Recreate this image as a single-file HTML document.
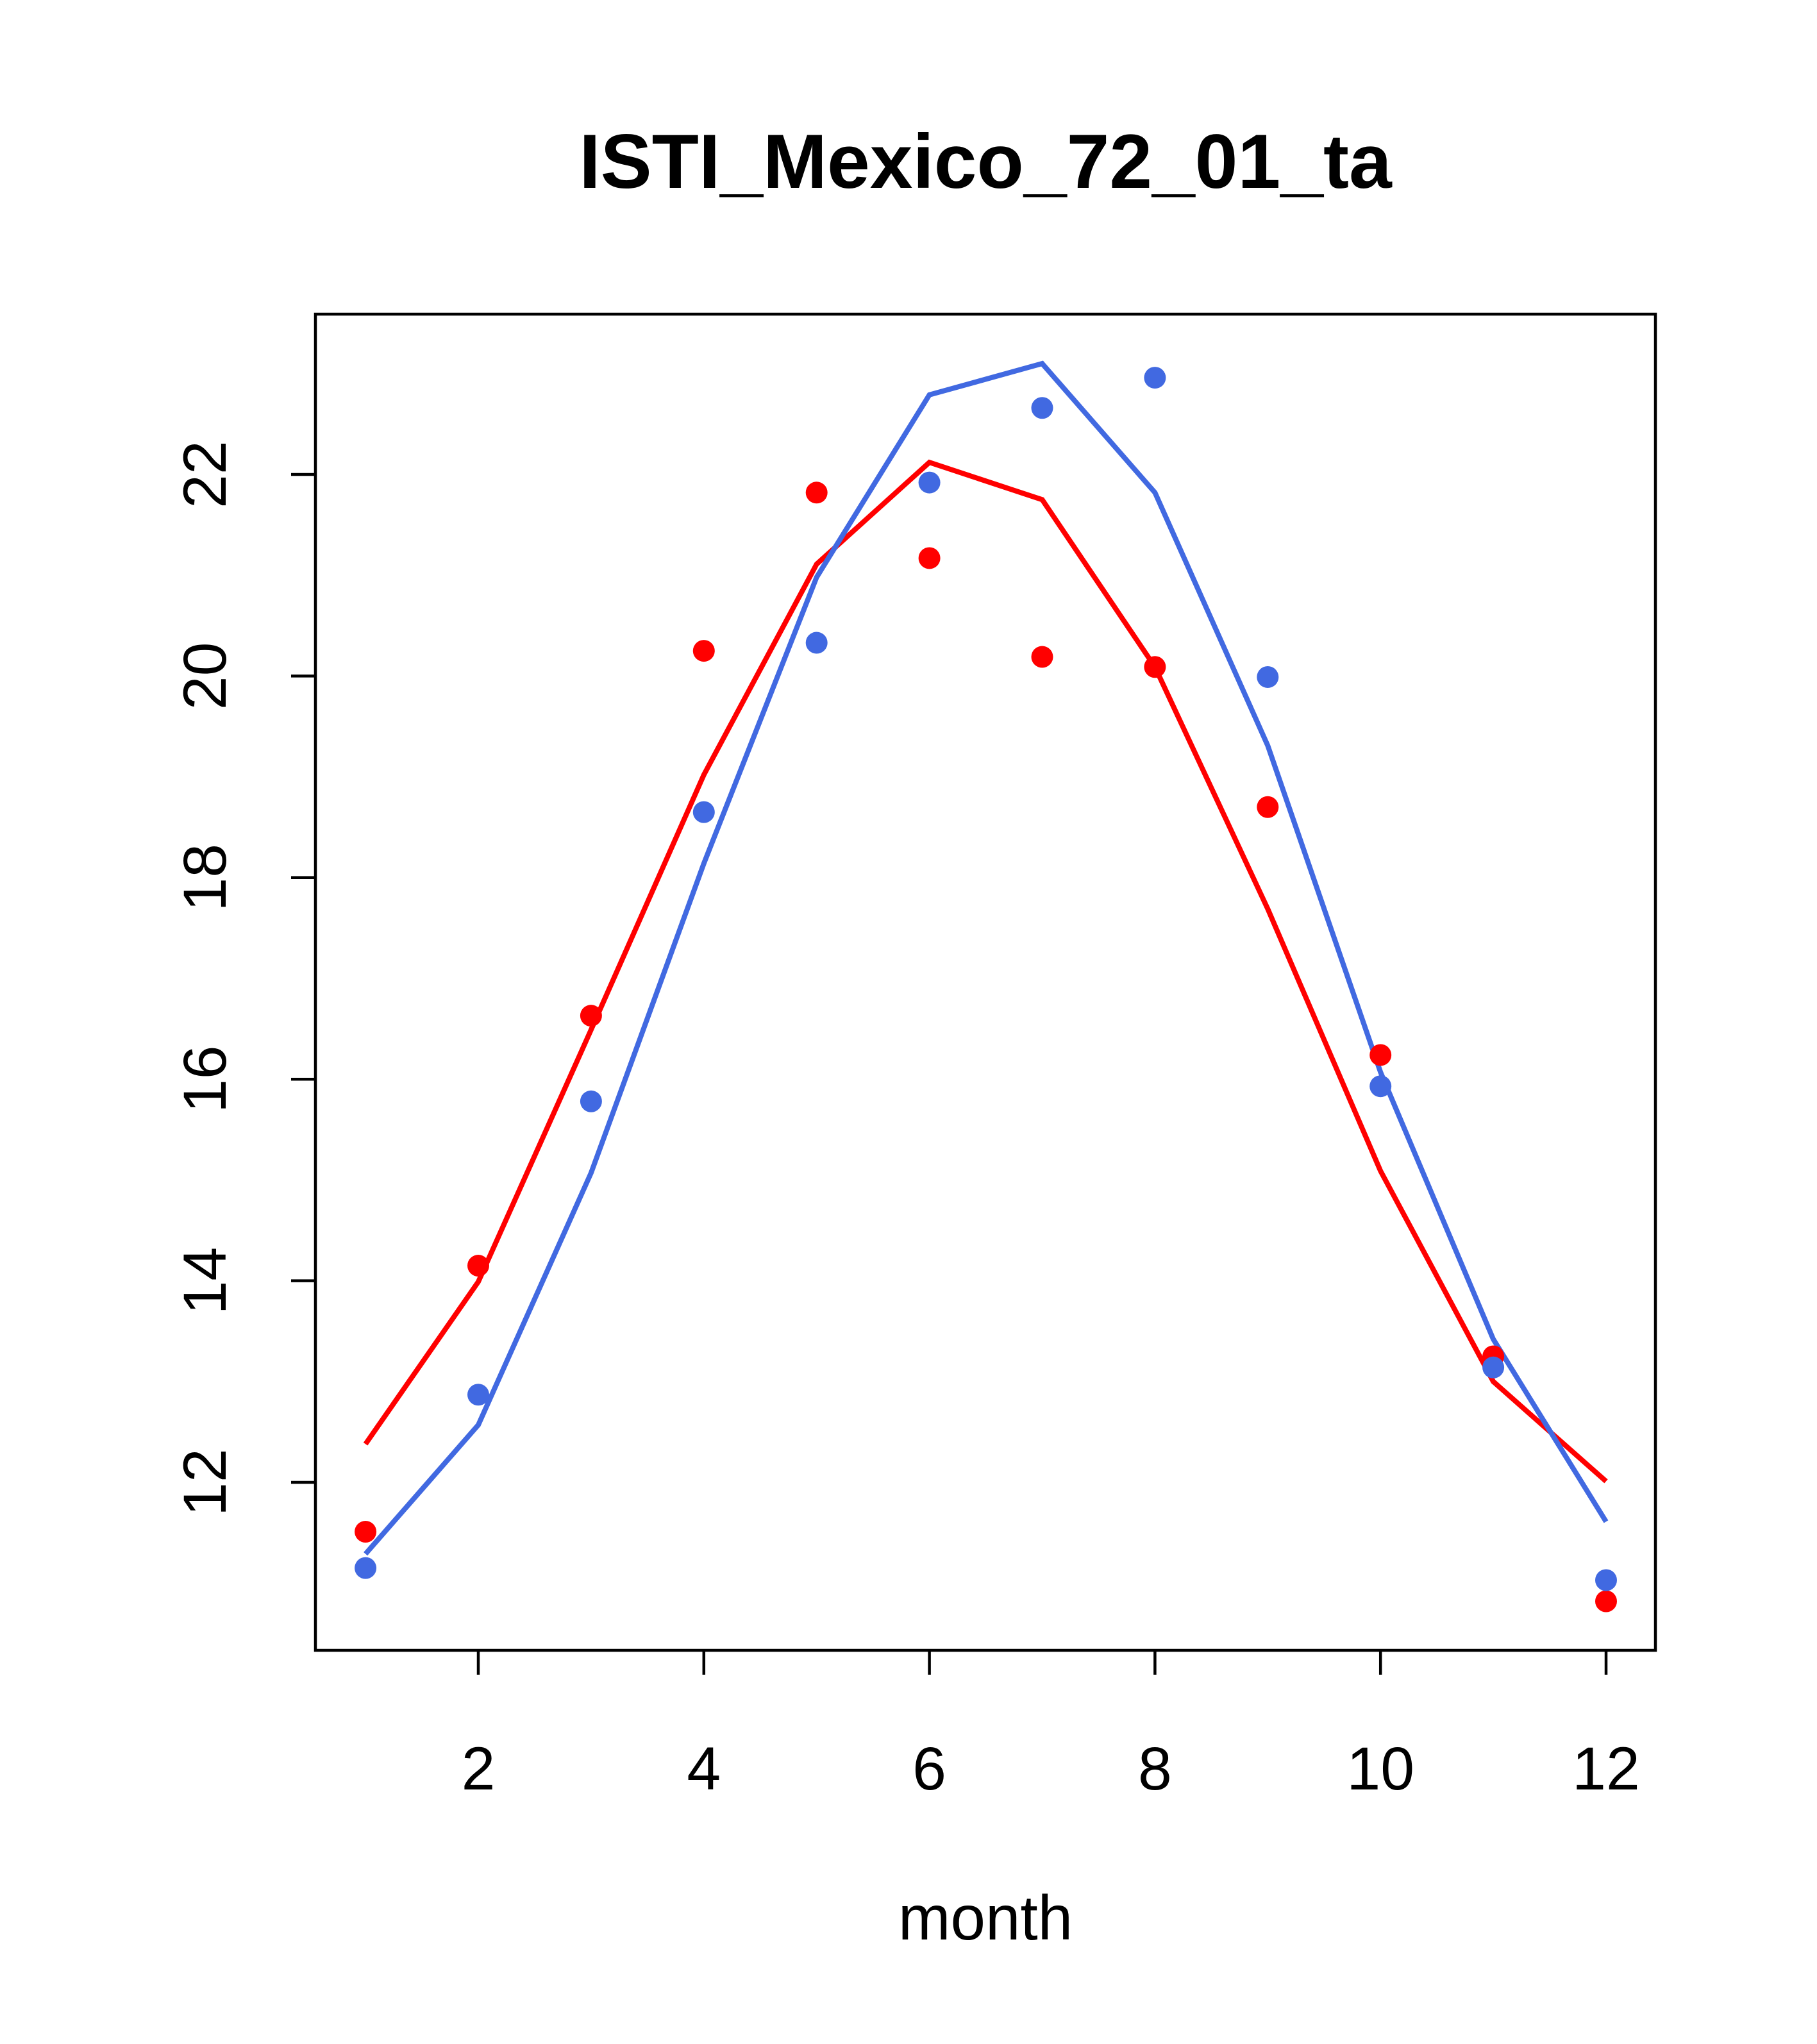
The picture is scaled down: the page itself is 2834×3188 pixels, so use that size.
<!DOCTYPE html>
<html><head><meta charset="utf-8"><style>
html,body{margin:0;padding:0;background:#fff;}
svg{display:block;font-family:"Liberation Sans",Arial,sans-serif;}
</style></head><body>
<svg id="chart" width="2834" height="3188" viewBox="0 0 2834 3188">
<text x="1537" y="293" text-anchor="middle" font-size="120" font-weight="bold">ISTI_Mexico_72_01_ta</text>
<rect x="492" y="490" width="2090" height="2084" fill="none" stroke="#000" stroke-width="4.5"/>
<g id="xaxis"></g>
<g id="yaxis"></g>
<text x="1537" y="3025" text-anchor="middle" font-size="98">month</text>
<g id="series"></g>
</svg>
<script>
const months=[1,2,3,4,5,6,7,8,9,10,11,12];
const redLine=[12.38,13.99,16.49,19.02,21.11,22.12,21.75,20.09,17.69,15.09,13.0,12.01];
const blueLine=[11.29,12.57,15.07,18.14,20.98,22.79,23.10,21.82,19.31,16.07,13.42,11.61];
const redPoints=[11.51,14.15,16.63,20.25,21.82,21.17,20.19,20.09,18.70,16.24,13.25,10.82];
const bluePoints=[11.15,12.87,15.78,18.65,20.33,21.92,22.66,22.96,19.99,15.93,13.14,11.03];
const xTicks=[2,4,6,8,10,12];
const yTicks=[12,14,16,18,20,22];
const NS="http://www.w3.org/2000/svg";
function sx(m){return 746+(m-2)*(2505-746)/10;}
function sy(v){return 2312-(v-12)*(2312-740)/10;}
function mk(t,a,p){const e=document.createElementNS(NS,t);for(const k in a)e.setAttribute(k,a[k]);p.appendChild(e);return e;}
const xa=document.getElementById('xaxis'),ya=document.getElementById('yaxis'),se=document.getElementById('series');
xTicks.forEach(t=>{
 const l=mk('line',{x1:sx(t),x2:sx(t),y1:2574,y2:2612,stroke:'#000','stroke-width':4.5},xa);
 
 
 const tx=mk('text',{x:sx(t),y:2791,'text-anchor':'middle','font-size':95},xa);tx.textContent=t;
 
 
});
yTicks.forEach(t=>{
 const l=mk('line',{x1:454,x2:492,y1:sy(t),y2:sy(t),stroke:'#000','stroke-width':4.5},ya);
 
 
 const tx=mk('text',{x:0,y:0,'text-anchor':'middle','font-size':95,transform:`translate(352,${sy(t)}) rotate(-90)`},ya);tx.textContent=t;
 
 
});
function line(vals,col,name){
 const p=mk('polyline',{points:vals.map((v,i)=>sx(months[i])+','+sy(v)).join(' '),fill:'none',stroke:col,'stroke-width':8},se);
 
 
}
function pts(vals,col,name){
 vals.forEach((v,i)=>{const c=mk('circle',{cx:sx(months[i]),cy:sy(v),r:17,fill:col},se);
 
 });
}
line(redLine,'#ff0000','red-fit-line');
line(blueLine,'#4169e1','blue-fit-line');
pts(redPoints,'#ff0000','red-point');
pts(bluePoints,'#4169e1','blue-point');
</script>
</body></html>
